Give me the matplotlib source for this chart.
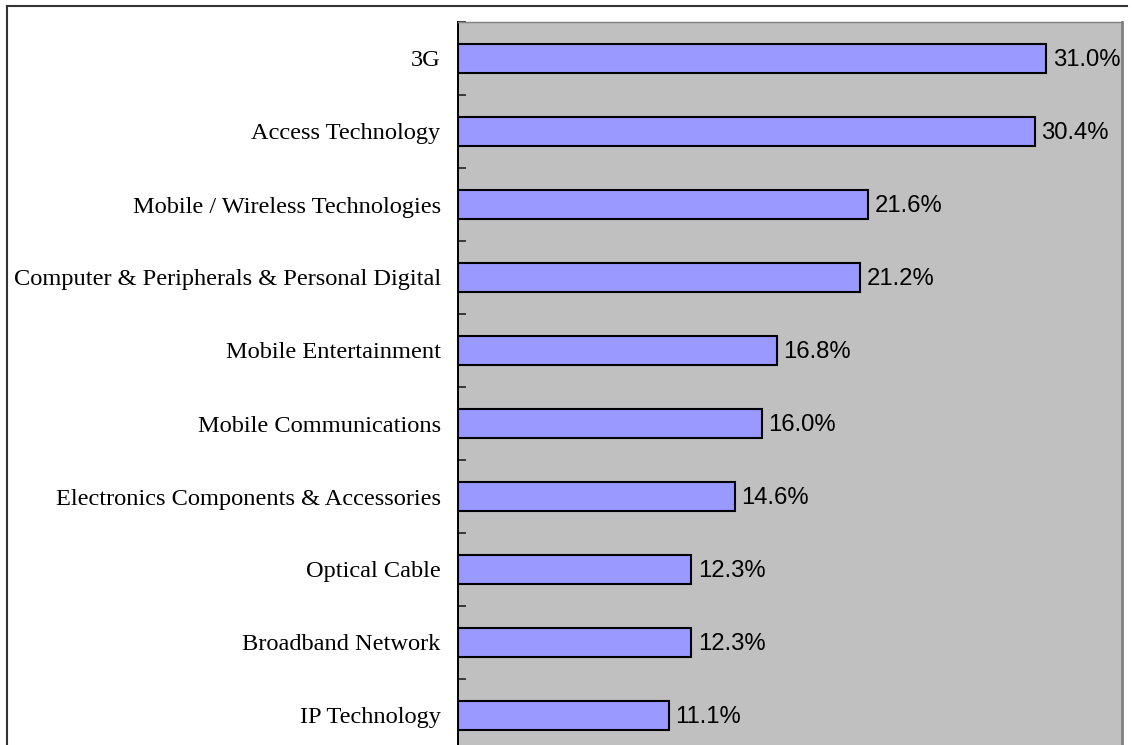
import matplotlib.pyplot as plt
from matplotlib.lines import Line2D
import numpy as np

categories = ['3G', 'Access Technology', 'Mobile / Wireless Technologies',
              'Computer & Peripherals & Personal Digital', 'Mobile Entertainment',
              'Mobile Communications', 'Electronics Components & Accessories',
              'Optical Cable', 'Broadband Network', 'IP Technology']
values = [31.0, 30.4, 21.6, 21.2, 16.8, 16.0, 14.6, 12.3, 12.3, 11.1]
value_labels = ['31.0%', '30.4%', '21.6%', '21.2%', '16.8%', '16.0%', '14.6%',
                '12.3%', '12.3%', '11.1%']

fig = plt.figure(figsize=(11.33, 7.45), dpi=100)
ax = fig.add_axes([458 / 1133, 1 - 752 / 745, (1122 - 458) / 1133, 730 / 745])

y = np.arange(len(categories))
ax.barh(y, values, height=0.4, color='#9999FF', edgecolor='black', linewidth=1.5)
ax.set_facecolor('#C0C0C0')
ax.set_xlim(0, 35)
ax.set_ylim(len(categories) - 0.5, -0.5)

for yi, v, lab in zip(y, values, value_labels):
    ax.text(v + 0.35, yi + 0.02, lab, va='center', ha='left', fontsize=17.2,
            family='Liberation Sans', color='black')

ax.set_yticks(y)
ax.set_yticklabels(categories, family='Liberation Serif', fontsize=17.6)
ax.tick_params(axis='y', which='major', length=0, pad=12.5)
ax.set_yticks(np.arange(-0.5, len(categories), 1), minor=True)
ax.tick_params(axis='y', which='minor', direction='in', length=6, width=1.2, color='#222222')
ax.set_xticks([])

ax.spines['left'].set_color('black')
ax.spines['left'].set_linewidth(1.4)
ax.spines['top'].set_color('#808080')
ax.spines['top'].set_linewidth(1)
ax.spines['right'].set_color('#808080')
ax.spines['right'].set_linewidth(2)
ax.spines['bottom'].set_visible(False)

# outer frame of the figure (left and top edges)
fig.add_artist(Line2D([7 / 1133, 7 / 1133], [0, 1 - 6 / 745], transform=fig.transFigure,
                      color='#333333', linewidth=1.5))
fig.add_artist(Line2D([7 / 1133, 1127 / 1133], [1 - 6 / 745, 1 - 6 / 745],
                      transform=fig.transFigure, color='#333333', linewidth=1.5))

fig.savefig('out.png', dpi=100)
